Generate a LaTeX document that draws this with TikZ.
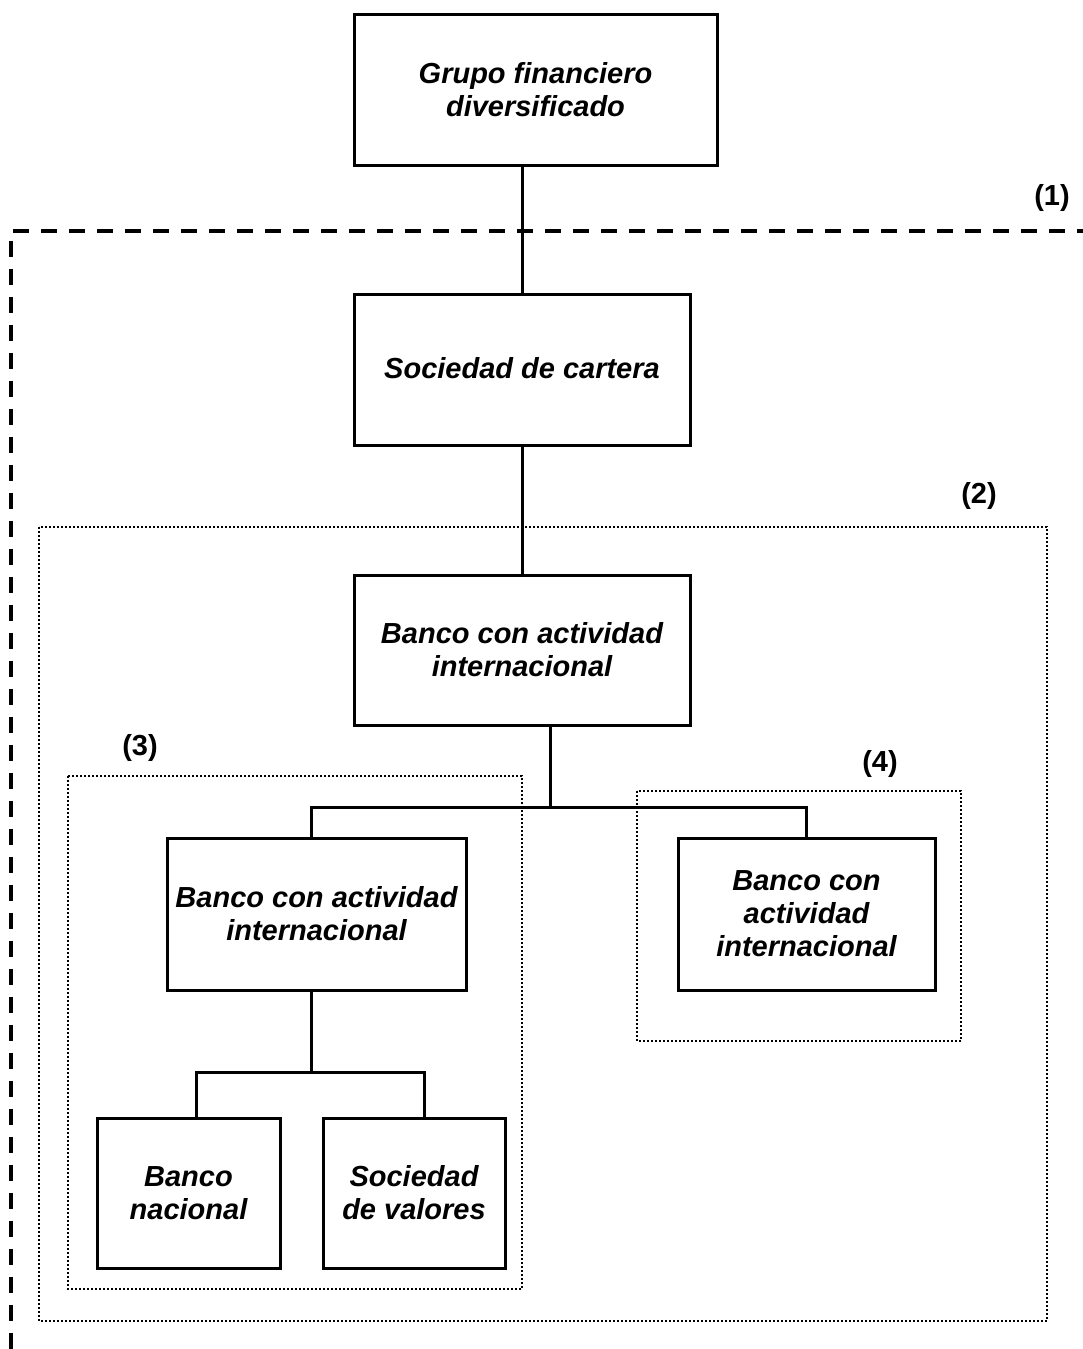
\documentclass[tikz,border=0pt]{standalone}
\usepackage{fontspec}
\setmainfont{Liberation Sans}
\begin{document}
\begin{tikzpicture}[x=1pt,y=-1pt,
  box/.style={draw,line width=3pt,align=center,inner sep=0pt,font=\fontsize{29}{33}\selectfont\bfseries\itshape},
  conn/.style={line width=3pt},
  grp/.style={draw,line width=2pt,dash pattern=on 2pt off 2pt},
  lab/.style={font=\fontsize{29}{33}\selectfont\bfseries},
  bnd/.style={line width=3.5pt,dash pattern=on 16pt off 12pt}]
\useasboundingbox (0,0) rectangle (1083,1349);
% dotted groups
\draw[grp] (39,527) rectangle (1047,1321);
\draw[grp] (68,776) rectangle (522,1289);
\draw[grp] (637,791) rectangle (961,1041);
% dashed boundary
\coordinate (d0) at (11,1349);
\coordinate (d1) at (11,231);
\coordinate (d2) at (1083,231);
\draw[bnd] (d0) -- (d1) -- (d2);
% boxes
\node[box,minimum width=363pt,minimum height=151pt] (g) at (535.5,89.5) {Grupo financiero\\diversificado};
\node[box,minimum width=336pt,minimum height=151pt,text depth=3pt] (s) at (522,369.5) {Sociedad de cartera};
\node[box,minimum width=336pt,minimum height=150pt] (b) at (522,650) {Banco con actividad\\internacional};
\node[box,minimum width=299pt,minimum height=152pt] (bl) at (316.5,914) {Banco con actividad\\internacional};
\node[box,minimum width=257pt,minimum height=152pt] (br) at (806.5,914) {Banco con\\actividad\\internacional};
\node[box,minimum width=183pt,minimum height=150pt] (bn) at (188.5,1193) {Banco\\nacional};
\node[box,minimum width=182pt,minimum height=150pt] (sv) at (414,1193) {Sociedad\\de valores};
% connectors
\coordinate (gb) at (522,165);
\draw[conn] (gb) -- (s.north);
\draw[conn] (s.south) -- (b.north);
\coordinate (b1) at (550,725);
\coordinate (j1) at (550,807);
\coordinate (jl) at (311,807);
\coordinate (jr) at (806,807);
\coordinate (bl1) at (311,838);
\coordinate (br1) at (806,838);
\draw[conn] (b1) -- (j1);
\draw[conn] (bl1) -- (jl) -- (jr) -- (br1);
\coordinate (bl2) at (311,990);
\coordinate (j2) at (311,1072);
\coordinate (j2l) at (196,1072);
\coordinate (j2r) at (424,1072);
\coordinate (bn1) at (196,1118);
\coordinate (sv1) at (424,1118);
\draw[conn] (bl2) -- (j2);
\draw[conn] (bn1) -- (j2l) -- (j2r) -- (sv1);
% labels
\node[lab] (l1) at (1052,198) {(1)};
\node[lab] (l2) at (979,496) {(2)};
\node[lab] (l3) at (140,748) {(3)};
\node[lab] (l4) at (880,764) {(4)};
\end{tikzpicture}
\end{document}
